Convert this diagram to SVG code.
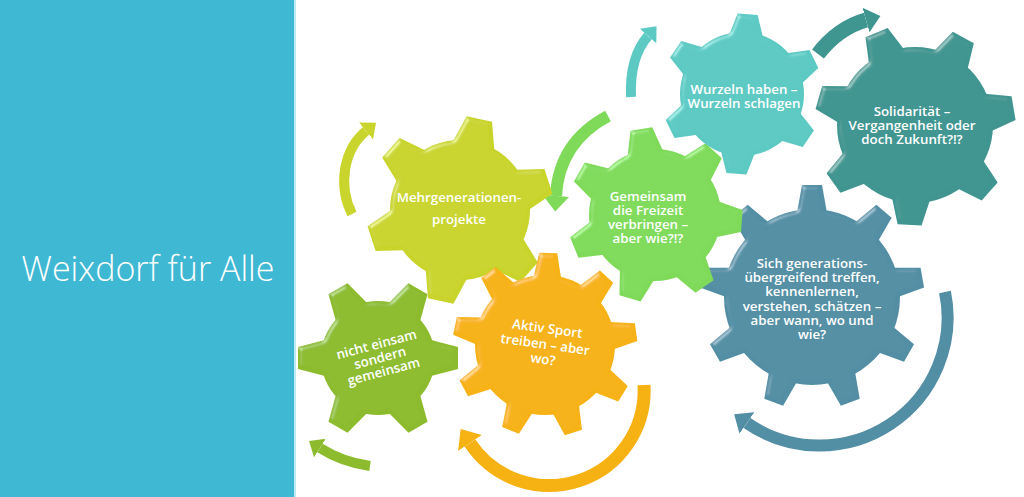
<svg xmlns="http://www.w3.org/2000/svg" xmlns:xlink="http://www.w3.org/1999/xlink" width="1024" height="497" viewBox="0 0 1024 497">
<style>
.lbl{font-family:"Open Sans","Liberation Sans",sans-serif;font-weight:600;font-size:13.3px;fill:#ffffff;text-anchor:middle}
.title{font-family:"Open Sans","Liberation Sans",sans-serif;font-weight:300;font-size:34px;fill:#ffffff;text-anchor:middle}
.arr{fill:none;stroke-linecap:butt}
</style>
<defs>
<filter id="bevel" x="-10%" y="-10%" width="120%" height="120%">
<feGaussianBlur in="SourceAlpha" stdDeviation="2" result="b"/>
<feSpecularLighting in="b" surfaceScale="3" specularConstant="0.45" specularExponent="25" lighting-color="#ffffff" result="s"><feDistantLight azimuth="225" elevation="30"/></feSpecularLighting>
<feComposite in="s" in2="SourceAlpha" operator="in" result="s2"/>
<feComposite in="SourceGraphic" in2="s2" operator="arithmetic" k2="1" k3="0.6"/>
</filter>
<path id="t-yel" d="M-21,-66 L-13,-93 L13,-93 L21,-66Z"/>
<path id="t-grn" d="M-18,-62 L-11,-87 L11,-87 L18,-62Z"/>
<path id="t-tea" d="M-17,-58 L-10,-80 L10,-80 L17,-58Z"/>
<path id="t-dtl" d="M-19,-74 L-12,-100 L12,-100 L19,-74Z"/>
<path id="t-blu" d="M-15,-84 L-10,-112 L10,-112 L15,-84Z"/>
<path id="t-org" d="M-14,-66 L-9,-92 L9,-92 L14,-66Z"/>
<path id="t-olv" d="M-18,-53 L-11,-80 L11,-80 L18,-53Z"/>
<marker id="m-yel" viewBox="0 0 13 22" refX="0" refY="11" markerWidth="1.3" markerHeight="2.2" orient="auto"><path d="M0,0 L13,11 L0,22Z" fill="#C9D42C"/></marker>
<marker id="m-grn" viewBox="0 0 13 22" refX="0" refY="11" markerWidth="1.3" markerHeight="2.2" orient="auto"><path d="M0,0 L13,11 L0,22Z" fill="#7FDA5A"/></marker>
<marker id="m-tea" viewBox="0 0 13 22" refX="0" refY="11" markerWidth="1.3" markerHeight="2.2" orient="auto"><path d="M0,0 L13,11 L0,22Z" fill="#5CC9C3"/></marker>
<marker id="m-dtl" viewBox="0 0 13 22" refX="0" refY="11" markerWidth="1.0" markerHeight="2.0" orient="auto"><path d="M0,0 L13,11 L0,22Z" fill="#3F9590"/></marker>
<marker id="m-blu" viewBox="0 0 13 22" refX="0" refY="11" markerWidth="1.3" markerHeight="2.2" orient="auto"><path d="M0,0 L13,11 L0,22Z" fill="#528EA4"/></marker>
<marker id="m-org" viewBox="0 0 13 22" refX="0" refY="11" markerWidth="1.3" markerHeight="2.2" orient="auto"><path d="M0,0 L13,11 L0,22Z" fill="#F6B212"/></marker>
<marker id="m-olv" viewBox="0 0 13 22" refX="0" refY="11" markerWidth="1.3" markerHeight="2.2" orient="auto"><path d="M0,0 L13,11 L0,22Z" fill="#8CBB2D"/></marker>
</defs>
<rect width="1024" height="497" fill="#ffffff"/>
<g id="panel">
<rect x="0" y="0" width="294" height="497" fill="#3FB8D3"/>
<rect x="294" y="0" width="2" height="497" fill="#BDEBF4"/>
<text class="title" x="148" y="281">Weixdorf für Alle</text>
</g>
<g id="connectors">
<path class="arr" d="M352,214 C338,186 343,150 366,131" stroke="#C9D42C" stroke-width="10" marker-end="url(#m-yel)"/>
<path class="arr" d="M608,116 C578,132 558,158 556,196" stroke="#7FDA5A" stroke-width="12" marker-end="url(#m-grn)"/>
<path class="arr" d="M631,97 C630,72 634,52 648,36" stroke="#5CC9C3" stroke-width="10" marker-end="url(#m-tea)"/>
<path class="arr" d="M818,54 Q838,28 866,20" stroke="#3F9590" stroke-width="15" marker-end="url(#m-dtl)"/>
<path class="arr" d="M945,292 A128,128 0 0,1 747,423" stroke="#528EA4" stroke-width="12" marker-end="url(#m-blu)"/>
<path class="arr" d="M644,385 A95,95 0 0,1 470,443" stroke="#F6B212" stroke-width="13" marker-end="url(#m-org)"/>
<path class="arr" d="M370,466 Q342,462 320,448" stroke="#8CBB2D" stroke-width="10" marker-end="url(#m-olv)"/>
</g>
<g id="gear-sich" transform="translate(812,297)" fill="#528EA4">
<g filter="url(#bevel)">
<circle r="88"/>
<use xlink:href="#t-blu" transform="rotate(0)"/><use xlink:href="#t-blu" transform="rotate(40)"/><use xlink:href="#t-blu" transform="rotate(80)"/><use xlink:href="#t-blu" transform="rotate(120)"/><use xlink:href="#t-blu" transform="rotate(160)"/><use xlink:href="#t-blu" transform="rotate(200)"/><use xlink:href="#t-blu" transform="rotate(240)"/><use xlink:href="#t-blu" transform="rotate(280)"/><use xlink:href="#t-blu" transform="rotate(320)"/>
</g>
<text class="lbl" x="0" y="-29">Sich generations-</text>
<text class="lbl" x="0" y="-15">übergreifend treffen,</text>
<text class="lbl" x="0" y="-1">kennenlernen,</text>
<text class="lbl" x="0" y="14">verstehen, schätzen –</text>
<text class="lbl" x="0" y="28">aber wann, wo und</text>
<text class="lbl" x="0" y="42">wie?</text>
</g>
<g id="gear-solidaritaet" transform="translate(915,125)" fill="#3F9590">
<g filter="url(#bevel)">
<circle r="78"/>
<use xlink:href="#t-dtl" transform="rotate(-74)"/><use xlink:href="#t-dtl" transform="rotate(-22.6)"/><use xlink:href="#t-dtl" transform="rotate(28.9)"/><use xlink:href="#t-dtl" transform="rotate(80.3)"/><use xlink:href="#t-dtl" transform="rotate(131.7)"/><use xlink:href="#t-dtl" transform="rotate(183.1)"/><use xlink:href="#t-dtl" transform="rotate(234.6)"/>
</g>
<text class="lbl" x="-3" y="-9">Solidarität –</text>
<text class="lbl" x="-3" y="5">Vergangenheit oder</text>
<text class="lbl" x="-3" y="19">doch Zukunft?!?</text>
</g>
<g id="gear-freizeit" transform="translate(655,215)" fill="#7FDA5A">
<g filter="url(#bevel)">
<circle r="66"/>
<use xlink:href="#t-grn" transform="rotate(-9)"/><use xlink:href="#t-grn" transform="rotate(42.4)"/><use xlink:href="#t-grn" transform="rotate(93.9)"/><use xlink:href="#t-grn" transform="rotate(145.3)"/><use xlink:href="#t-grn" transform="rotate(196.7)"/><use xlink:href="#t-grn" transform="rotate(248.1)"/><use xlink:href="#t-grn" transform="rotate(299.6)"/>
</g>
<text class="lbl" x="-7" y="-14">Gemeinsam</text>
<text class="lbl" x="-7" y="0">die Freizeit</text>
<text class="lbl" x="-7" y="14">verbringen –</text>
<text class="lbl" x="-7" y="28">aber wie?!?</text>
</g>
<g id="gear-wurzeln" transform="translate(742,94)" fill="#5CC9C3">
<g filter="url(#bevel)">
<circle r="62"/>
<use xlink:href="#t-tea" transform="rotate(-56)"/><use xlink:href="#t-tea" transform="rotate(4)"/><use xlink:href="#t-tea" transform="rotate(64)"/><use xlink:href="#t-tea" transform="rotate(124)"/><use xlink:href="#t-tea" transform="rotate(184)"/><use xlink:href="#t-tea" transform="rotate(244)"/>
</g>
<text class="lbl" x="2" y="0">Wurzeln haben –</text>
<text class="lbl" x="2" y="14">Wurzeln schlagen</text>
</g>
<g id="gear-mehrgenerationen" transform="translate(460,210)" fill="#C9D42C">
<g filter="url(#bevel)">
<circle r="70"/>
<use xlink:href="#t-yel" transform="rotate(-48)"/><use xlink:href="#t-yel" transform="rotate(12)"/><use xlink:href="#t-yel" transform="rotate(72)"/><use xlink:href="#t-yel" transform="rotate(132)"/><use xlink:href="#t-yel" transform="rotate(192)"/><use xlink:href="#t-yel" transform="rotate(252)"/>
</g>
<text class="lbl" x="-1" y="-8">Mehrgenerationen-</text>
<text class="lbl" x="-1" y="14">projekte</text>
</g>
<g id="gear-sport" transform="translate(545,345)" fill="#F6B212">
<g filter="url(#bevel)">
<circle r="70"/>
<use xlink:href="#t-org" transform="rotate(2)"/><use xlink:href="#t-org" transform="rotate(42)"/><use xlink:href="#t-org" transform="rotate(82)"/><use xlink:href="#t-org" transform="rotate(122)"/><use xlink:href="#t-org" transform="rotate(162)"/><use xlink:href="#t-org" transform="rotate(202)"/><use xlink:href="#t-org" transform="rotate(242)"/><use xlink:href="#t-org" transform="rotate(282)"/><use xlink:href="#t-org" transform="rotate(322)"/>
</g>
<g transform="rotate(8)">
<text class="lbl" x="0" y="-12">Aktiv Sport</text>
<text class="lbl" x="0" y="4">treiben – aber</text>
<text class="lbl" x="0" y="19">wo?</text>
</g>
</g>
<g id="gear-einsam" transform="translate(378,358)" fill="#8CBB2D">
<g filter="url(#bevel)">
<circle r="57"/>
<use xlink:href="#t-olv" transform="rotate(30)"/><use xlink:href="#t-olv" transform="rotate(90)"/><use xlink:href="#t-olv" transform="rotate(150)"/><use xlink:href="#t-olv" transform="rotate(210)"/><use xlink:href="#t-olv" transform="rotate(270)"/><use xlink:href="#t-olv" transform="rotate(330)"/>
</g>
<g transform="rotate(-15)">
<text class="lbl" x="2" y="-9" font-weight="400">nicht einsam</text>
<text class="lbl" x="2" y="5" font-weight="400">sondern</text>
<text class="lbl" x="2" y="19" font-weight="400">gemeinsam</text>
</g>
</g>
</svg>
